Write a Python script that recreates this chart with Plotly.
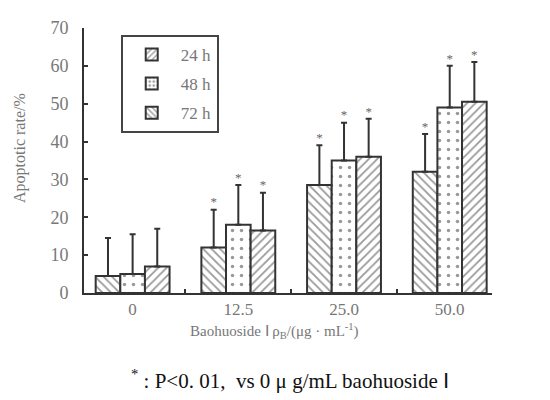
import plotly.graph_objects as go

categories = ["0", "12.5", "25.0", "50.0"]
series_names = ["24 h", "48 h", "72 h"]
vals_24h = [4.5, 12.0, 28.5, 32.0]
vals_48h = [5.0, 18.0, 35.0, 49.0]
vals_72h = [7.0, 16.5, 36.0, 50.5]
err_24h = [10.0, 10.0, 10.5, 10.0]
err_48h = [10.5, 10.5, 10.0, 11.0]
err_72h = [10.0, 10.0, 10.0, 10.5]
star_24h = ["", "*", "*", "*"]
star_48h = ["", "*", "*", "*"]
star_72h = ["", "*", "*", "*"]

values = [vals_24h, vals_48h, vals_72h]
errors = [err_24h, err_48h, err_72h]
stars = [star_24h, star_48h, star_72h]
bar_shapes = ["\\", ".", "/"]
legend_shapes = ["/", ".", "\\"]

FONT = "Liberation Serif"
DARK = "#333333"
GRAY = "#777777"

w = 0.233
idx = list(range(len(categories)))
fig = go.Figure()
for k in range(3):
    off = (k - 1) * w
    xs = [i + off for i in idx]
    fig.add_trace(go.Bar(
        x=xs, y=values[k], width=w, showlegend=False,
        marker=dict(color="white", line=dict(color=DARK, width=2),
                    pattern=dict(shape=bar_shapes[k], fgcolor=DARK, bgcolor="white",
                                 size=6 if bar_shapes[k] != "." else 9,
                                 solidity=0.3 if bar_shapes[k] != "." else 0.12)),
        error_y=dict(type="data", array=errors[k], arrayminus=[0] * 4, symmetric=False,
                     color=DARK, thickness=2, width=3),
    ))
    sel = [i for i in idx if stars[k][i]]
    fig.add_trace(go.Scatter(
        x=[xs[i] for i in sel],
        y=[values[k][i] + errors[k][i] for i in sel], mode="text",
        text=[stars[k][i] for i in sel], textposition="top center", showlegend=False,
        textfont=dict(family=FONT, size=13, color="#666666"),
    ))

for k in range(3):
    fig.add_trace(go.Bar(
        x=[None], y=[None], name=series_names[k], legendgroup=str(k),
        marker=dict(color="white", line=dict(color=DARK, width=2),
                    pattern=dict(shape=legend_shapes[k], fgcolor=DARK, bgcolor="white",
                                 size=5, solidity=0.35)),
    ))

fig.update_layout(
    width=550, height=400,
    margin=dict(l=76, r=66, t=20, b=115, autoexpand=False),
    plot_bgcolor="white", paper_bgcolor="white",
    barmode="overlay",
    font=dict(family=FONT, color=GRAY),
    legend=dict(x=0.09, y=0.974, xanchor="left", yanchor="top",
                bordercolor="#444444", borderwidth=2, bgcolor="white",
                font=dict(family=FONT, size=17, color=GRAY),
                itemwidth=48, tracegroupgap=4),
    xaxis=dict(range=[-0.46, 3.40], tickmode="array", tickvals=idx, ticktext=categories,
               ticks="", showline=True, linecolor=DARK, linewidth=2, automargin=False,
               tickfont=dict(family=FONT, size=17, color=GRAY),
               minor=dict(tickmode="array", tickvals=[0.5, 1.5, 2.5], ticks="inside",
                          ticklen=4, tickwidth=2, tickcolor=DARK),
               showgrid=False, zeroline=False),
    yaxis=dict(range=[0, 70], dtick=10, ticks="inside", ticklen=4, tickwidth=2,
               tickcolor=DARK, showline=True, linecolor=DARK, linewidth=2, automargin=False,
               tickfont=dict(family=FONT, size=18, color=GRAY), ticklabelstandoff=10,
               showgrid=False, zeroline=False),
    annotations=[
        dict(text="Apoptotic rate/%", textangle=-90, xref="paper", yref="paper",
             x=-0.157, y=0.547, xanchor="center", yanchor="middle", showarrow=False,
             font=dict(family=FONT, size=16, color=GRAY)),
        dict(text="Baohuoside Ⅰ ρ<sub>B</sub>/(μg · mL<sup>-1</sup>)",
             xref="paper", yref="paper", x=0.468, y=-0.145, xanchor="center",
             yanchor="middle", showarrow=False,
             font=dict(family=FONT, size=15, color=GRAY)),
        dict(text="<sup>*</sup> : P&lt;0. 01,  vs 0 μ g/mL baohuoside Ⅰ",
             xref="paper", yref="paper", x=0.505, y=-0.328, xanchor="center",
             yanchor="middle", showarrow=False,
             font=dict(family=FONT, size=21, color="#111111")),
    ],
)

fig.write_html("out.html")
